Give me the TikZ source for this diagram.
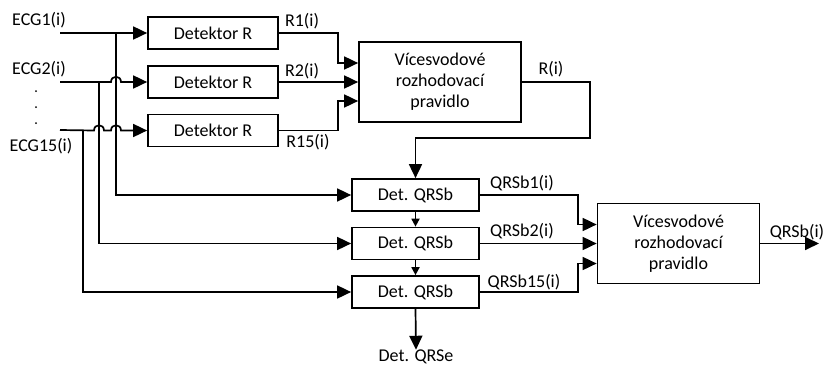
\documentclass[tikz,border=0pt]{standalone}
\usepackage{fontspec}
\setmainfont{Carlito}
\usetikzlibrary{arrows.meta}
\begin{document}
\begin{tikzpicture}[x=1pt,y=-1pt]
\tikzstyle{block}=[draw,line width=1.7pt,minimum height=32pt,inner sep=0pt,font=\fontsize{18}{21}\selectfont]
\tikzstyle{vote}=[block,minimum width=162pt,minimum height=80pt,align=center]
\tikzstyle{edge}=[draw,line width=1.7pt]
\tikzstyle{arr}=[edge,-{Triangle[length=14pt,width=13pt]}]
\tikzstyle{smallarr}=[edge,-{Triangle[length=8pt,width=8pt]}]
\tikzstyle{sig}=[font=\fontsize{18}{21}\selectfont,inner sep=0pt]
\useasboundingbox (0,0) rectangle (824,367);
% inputs
\coordinate (in1) at (60,33);
\coordinate (in2) at (60,82);
\coordinate (in15) at (60,130);
\coordinate (tap1) at (116,33);
\coordinate (tap2) at (99,82);
\coordinate (tap15) at (83,130);
\node[sig] (ecg1) at (39,20) {ECG1(i)};
\node[sig] (ecg2) at (39,69) {ECG2(i)};
\node[sig] (ecg15) at (41,146) {ECG15(i)};
\fill (36,91) circle[radius=1pt];
\fill (36,107) circle[radius=1pt];
\fill (36,123) circle[radius=1pt];
% R detectors
\node[block,minimum width=130pt] (detR1) at (213,33) {Detektor R};
\node[block,minimum width=130pt] (detR2) at (213,82) {Detektor R};
\node[block,minimum width=130pt] (detR15) at (213,130.5) {Detektor R};
\node[vote] (vote1) at (440,82) {Vícesvodové\\rozhodovací\\pravidlo};
% QRSb detectors
\node[block,minimum width=127pt] (qrs1) at (415.5,195) {Det. QRSb};
\node[block,minimum width=127pt] (qrs2) at (415.5,243.5) {Det. QRSb};
\node[block,minimum width=127pt] (qrs15) at (415.5,292) {Det. QRSb};
\node[vote] (vote2) at (678.5,243.5) {Vícesvodové\\rozhodovací\\pravidlo};
\node[sig] (qrse) at (416,357) {Det. QRSe};
\coordinate (fb) at (590,138);
\coordinate (out) at (819,243.5);
% input lines
\path[arr] (in1) -- (detR1.west);
\path[arr] (in2) -- (111,82) .. controls (111,75) and (121,75) .. (121,82) -- (detR2.west);
\path[arr] (in15) -- (94,130.5) .. controls (94,123.5) and (104,123.5) .. (104,130.5) -- (111,130.5) .. controls (111,123.5) and (121,123.5) .. (121,130.5) -- (detR15.west);
\path[arr] (tap1) |- (qrs1.west);
\path[arr] (tap2) |- (qrs2.west);
\path[arr] (tap15) |- (qrs15.west);
% R outputs
\path[arr] (detR1.east) -- ++(59,0) |- ([yshift=19pt]vote1.west);
\path[arr] (detR2.east) -- (vote1.west);
\path[arr] (detR15.east) -- ++(59,0) |- ([yshift=-19pt]vote1.west);
\node[sig] (r1) at (302,21) {R1(i)};
\node[sig] (r2) at (302,71) {R2(i)};
\node[sig] (r15) at (308,142) {R15(i)};
\path[arr] (vote1.east) -| (fb) -| (qrs1.north);
\node[sig] (r) at (551,69) {R(i)};
% QRSb outputs
\path[smallarr] (qrs1.south) -- (qrs2.north);
\path[smallarr] (qrs2.south) -- (qrs15.north);
\path[arr] (qrs15.south) -- (qrse.north);
\path[arr] (qrs1.east) -- ++(98,0) |- ([yshift=19pt]vote2.west);
\path[arr] (qrs2.east) -- (vote2.west);
\path[arr] (qrs15.east) -- ++(98,0) |- ([yshift=-20pt]vote2.west);
\node[sig] (b1) at (522,183) {QRSb1(i)};
\node[sig] (b2) at (522,231) {QRSb2(i)};
\node[sig] (b15) at (524,282) {QRSb15(i)};
\path[arr] (vote2.east) -- (out);
\node[sig] (b) at (797,232) {QRSb(i)};
\end{tikzpicture}
\end{document}
